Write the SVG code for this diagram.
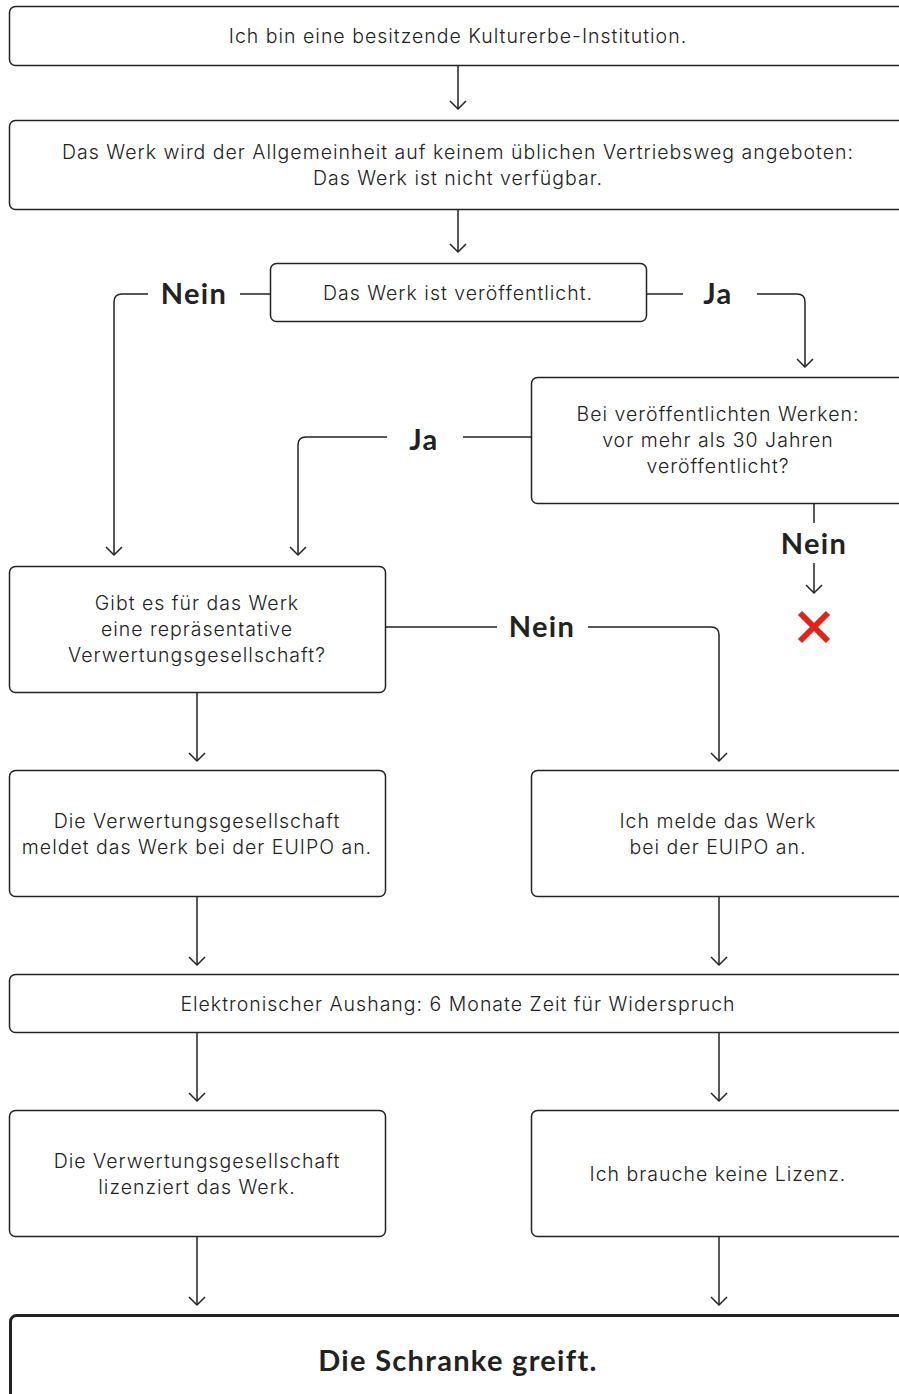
<svg xmlns="http://www.w3.org/2000/svg" width="899" height="1394" viewBox="0 0 899 1394">
<style>
.box{fill:#fff;stroke:#222;stroke-width:1.5}
.big{fill:#fff;stroke:#222;stroke-width:3}
.t{font-family:Inter,"Liberation Sans",sans-serif;font-weight:300;font-size:19.5px;letter-spacing:1px;fill:#222;text-anchor:middle}
.l{font-family:Lato,"Liberation Sans",sans-serif;font-weight:700;font-size:29px;letter-spacing:1.3px;fill:#222;text-anchor:middle}
.h{font-family:Lato,"Liberation Sans",sans-serif;font-weight:700;font-size:29px;letter-spacing:1.3px;fill:#222;text-anchor:middle}
.c{fill:none;stroke:#222;stroke-width:1.5}
</style>
<defs>
<marker id="ah" markerUnits="userSpaceOnUse" markerWidth="20" markerHeight="20" viewBox="-10 -10 20 20" refX="0" refY="0" orient="auto">
<path d="M-8,-8 L0,0 L-8,8" fill="none" stroke="#222" stroke-width="1.5"/>
</marker>
</defs>
<rect width="899" height="1394" fill="#fff"/>
<g id="connectors">
<path class="c" d="M458,65 V109" marker-end="url(#ah)"/>
<path class="c" d="M458,209 V252" marker-end="url(#ah)"/>
<path class="c" d="M270,294 H240"/>
<path class="c" d="M148,294 H122 Q114,294 114,302 V555" marker-end="url(#ah)"/>
<path class="c" d="M647,294 H683"/>
<path class="c" d="M757,294 H797 Q805,294 805,302 V367" marker-end="url(#ah)"/>
<path class="c" d="M531,437 H463"/>
<path class="c" d="M387,437 H306 Q298,437 298,445 V555" marker-end="url(#ah)"/>
<path class="c" d="M814,503 V523"/>
<path class="c" d="M814,563 V593" marker-end="url(#ah)"/>
<path class="c" d="M386,627 H497"/>
<path class="c" d="M588,627 H711 Q719,627 719,635 V761" marker-end="url(#ah)"/>
<path class="c" d="M197,692 V761" marker-end="url(#ah)"/>
<path class="c" d="M197,896 V965" marker-end="url(#ah)"/>
<path class="c" d="M719,896 V965" marker-end="url(#ah)"/>
<path class="c" d="M197,1032 V1101" marker-end="url(#ah)"/>
<path class="c" d="M719,1032 V1101" marker-end="url(#ah)"/>
<path class="c" d="M197,1237 V1305" marker-end="url(#ah)"/>
<path class="c" d="M719,1237 V1305" marker-end="url(#ah)"/>
<text class="l" x="194" y="304">Nein</text>
<text class="l" x="718" y="304">Ja</text>
<text class="l" x="424" y="450">Ja</text>
<text class="l" x="814" y="554">Nein</text>
<text class="l" x="542" y="637">Nein</text>
</g>
<g id="n1"><rect class="box" x="9.5" y="6.5" width="900" height="59" rx="6"/><text class="t" x="458" y="43">Ich bin eine besitzende Kulturerbe-Institution.</text></g>
<g id="n2"><rect class="box" x="9.5" y="120.5" width="900" height="89" rx="6"/><text class="t" x="458" y="159">Das Werk wird der Allgemeinheit auf keinem üblichen Vertriebsweg angeboten:</text><text class="t" x="458" y="185">Das Werk ist nicht verfügbar.</text></g>
<g id="n3"><rect class="box" x="270.5" y="263.5" width="376" height="58" rx="6"/><text class="t" x="458" y="300">Das Werk ist veröffentlicht.</text></g>
<g id="n4"><rect class="box" x="531.5" y="377.5" width="400" height="126" rx="6"/><text class="t" x="718" y="421">Bei veröffentlichten Werken:</text><text class="t" x="718" y="447">vor mehr als 30 Jahren</text><text class="t" x="718" y="473">veröffentlicht?</text></g>
<g id="x"><path d="M800,613 L828,641 M828,613 L800,641" stroke="#e2231a" stroke-width="6" fill="none"/></g>
<g id="n5"><rect class="box" x="9.5" y="566.5" width="376" height="126" rx="6"/><text class="t" x="197" y="610">Gibt es für das Werk</text><text class="t" x="197" y="636">eine repräsentative</text><text class="t" x="197" y="662">Verwertungsgesellschaft?</text></g>
<g id="n6"><rect class="box" x="9.5" y="770.5" width="376" height="126" rx="6"/><text class="t" x="197" y="828">Die Verwertungsgesellschaft</text><text class="t" x="197" y="854">meldet das Werk bei der EUIPO an.</text></g>
<g id="n7"><rect class="box" x="531.5" y="770.5" width="400" height="126" rx="6"/><text class="t" x="718" y="828">Ich melde das Werk</text><text class="t" x="718" y="854">bei der EUIPO an.</text></g>
<g id="n8"><rect class="box" x="9.5" y="974.5" width="900" height="58" rx="6"/><text class="t" x="458" y="1011">Elektronischer Aushang: 6 Monate Zeit für Widerspruch</text></g>
<g id="n9"><rect class="box" x="9.5" y="1110.5" width="376" height="126" rx="6"/><text class="t" x="197" y="1168">Die Verwertungsgesellschaft</text><text class="t" x="197" y="1194">lizenziert das Werk.</text></g>
<g id="n10"><rect class="box" x="531.5" y="1110.5" width="400" height="126" rx="6"/><text class="t" x="718" y="1181">Ich brauche keine Lizenz.</text></g>
<g id="n11"><rect class="big" x="10.5" y="1315.5" width="900" height="120" rx="6"/><text class="h" x="458" y="1371">Die Schranke greift.</text></g>
</svg>
